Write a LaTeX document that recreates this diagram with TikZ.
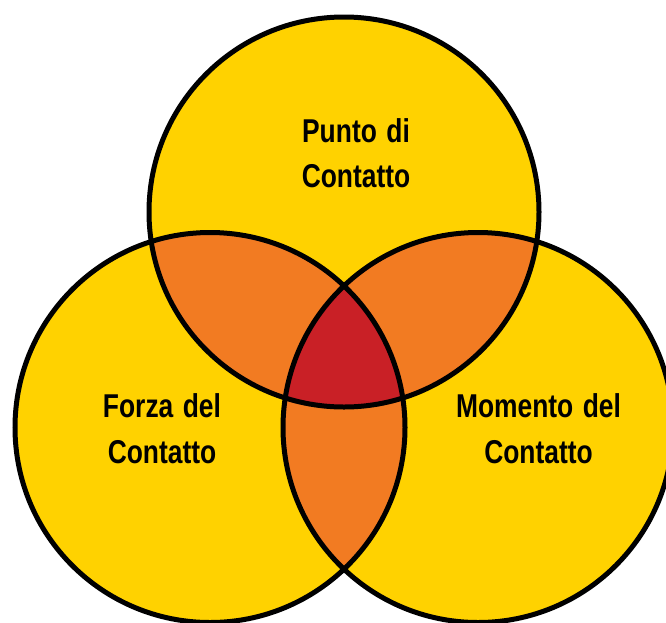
\documentclass[tikz,border=0pt]{standalone}
\usepackage{fontspec}
\setmainfont[FakeStretch=0.8]{Liberation Sans}
\definecolor{vyellow}{HTML}{FFD200}
\definecolor{vorange}{HTML}{F27B22}
\definecolor{vred}{HTML}{C92026}
\newcommand\lblfont{\fontsize{33}{38}\selectfont\bfseries\spaceskip=9.5pt\relax}
\begin{document}
\begin{tikzpicture}[x=1pt,y=-1pt,
  ring/.style={draw=black,line width=5pt},
  lbl/.style={anchor=base,inner sep=0pt,font=\lblfont}]
\useasboundingbox (0,0) rectangle (666,622);
\clip (0,0) rectangle (666,622);
\coordinate (T) at (344,212);
\coordinate (L) at (210,427.5);
\coordinate (R) at (478,427.5);
\def\rr{195}
% base fills
\fill[vyellow] (T) circle (\rr);
\fill[vyellow] (L) circle (\rr);
\fill[vyellow] (R) circle (\rr);
% pairwise overlaps
\begin{scope}\clip (T) circle (\rr); \fill[vorange] (L) circle (\rr); \fill[vorange] (R) circle (\rr);\end{scope}
\begin{scope}\clip (L) circle (\rr); \fill[vorange] (R) circle (\rr);\end{scope}
% triple overlap
\begin{scope}\clip (T) circle (\rr); \clip (L) circle (\rr); \fill[vred] (R) circle (\rr);\end{scope}
% outlines
\draw[ring] (T) circle (\rr);
\draw[ring] (L) circle (\rr);
\draw[ring] (R) circle (\rr);
% labels
\node[lbl] (t1) at (356,142) {Punto di};
\node[lbl] (t2) at (356,187) {Contatto};
\node[lbl] (l1) at (162,417) {Forza del};
\node[lbl] (l2) at (162,463) {Contatto};
\node[lbl] (r1) at (538.5,417) {Momento del};
\node[lbl] (r2) at (538.5,463) {Contatto};
\end{tikzpicture}
\end{document}
